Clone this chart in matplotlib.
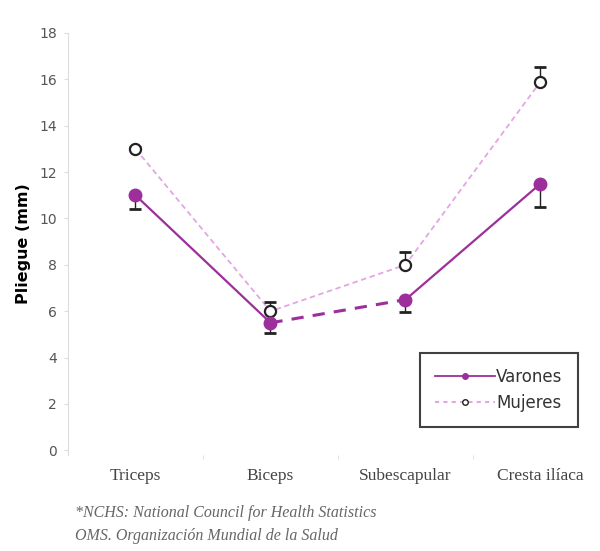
import numpy as np
import matplotlib.pyplot as plt

# Data
categorias = ['Triceps', 'Biceps', 'Subescapular', 'Cresta ilíaca']
varones = [11.0, 5.5, 6.5, 11.5]
varones_err = [0.6, 0.45, 0.55, 1.0]
mujeres = [13.0, 6.0, 8.0, 15.9]
mujeres_err = [0.1, 0.4, 0.55, 0.65]
y_ticks = [0, 2, 4, 6, 8, 10, 12, 14, 16, 18]

morado = '#9c2f9c'
rosa = '#e3a6e3'

x = np.arange(len(categorias))

fig = plt.figure(figsize=(6, 5.51), dpi=100)
ax = fig.add_axes([0.1133, 0.1742, 0.9, 0.766])

# Mujeres: open circles, light dashed line, error bars upward
ax.plot(x, mujeres, color=rosa, lw=1.3, ls=(0, (3, 2)), zorder=2)
ax.errorbar(x, mujeres, yerr=[np.zeros(4), mujeres_err], fmt='none',
            ecolor='#222222', elinewidth=1, capsize=4, capthick=2, zorder=3)
ax.plot(x, mujeres, 'o', ms=8, mfc='white', mec='#222222', mew=1.6, ls='none', zorder=4)

# Varones: filled circles, solid line (middle segment dashed)
ax.plot(x[:2], varones[:2], color=morado, lw=1.6, zorder=2)
ax.plot(x[1:3], varones[1:3], color=morado, lw=2.2, ls=(0, (4, 3)), zorder=2)
ax.plot(x[2:], varones[2:], color=morado, lw=1.6, zorder=2)
ax.errorbar(x, varones, yerr=[varones_err, np.zeros(4)], fmt='none',
            ecolor='#222222', elinewidth=1, capsize=4, capthick=2, zorder=3)
ax.plot(x, varones, 'o', ms=9, color=morado, ls='none', zorder=5)

ax.set_xlim(-0.5, 3.5)
ax.set_ylim(-0.2, 18)
ax.set_yticks(y_ticks)
ax.set_yticklabels([str(t) for t in y_ticks], color='#555555', fontsize=10)
ax.set_xticks(x)
ax.set_xticklabels(categorias, color='#444444', fontsize=12.5, family='Liberation Serif')
ax.set_xticks(x[:-1] + 0.5, minor=True)
ax.tick_params(axis='x', which='major', length=0, pad=9)
ax.tick_params(axis='x', which='minor', length=3, color='#dddddd')
ax.tick_params(axis='y', length=3, color='#dddddd', pad=5)

for s in ['top', 'right', 'bottom']:
    ax.spines[s].set_visible(False)
ax.spines['left'].set_color('#dddddd')

ax.set_ylabel('Pliegue (mm)', fontsize=11.5, fontweight='bold', labelpad=6)

# Legend
h1, = ax.plot([], [], color=morado, lw=1.3, marker='o', ms=4)
h2, = ax.plot([], [], color=rosa, lw=1.5, ls=(0, (2, 2)), marker='o', ms=4,
              mfc='white', mec='#222222')
leg = ax.legend([h1, h2], ['Varones', 'Mujeres'], loc='lower right',
                bbox_to_anchor=(0.944, 0.066), borderaxespad=0, frameon=True,
                fancybox=False, edgecolor='#111111', fontsize=12, handlelength=3.6,
                handletextpad=0.1, borderpad=0.9, labelspacing=0.5)
leg.get_frame().set_linewidth(1.5)
for t in leg.get_texts():
    t.set_color('#333333')

fig.text(0.125, 0.061, '*NCHS: National Council for Health Statistics', fontsize=11.5,
         style='italic', color='#666666', family='Liberation Serif')
fig.text(0.125, 0.020, 'OMS. Organización Mundial de la Salud', fontsize=11.5,
         style='italic', color='#666666', family='Liberation Serif')

fig.savefig('out.png', dpi=100)
